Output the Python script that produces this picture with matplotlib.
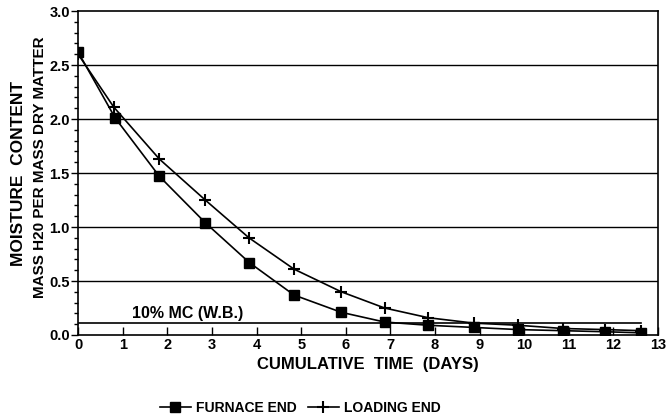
import numpy as np
import matplotlib
matplotlib.use("Agg")
import matplotlib.pyplot as plt
from matplotlib.ticker import MultipleLocator

plt.rcParams["font.family"] = ["Liberation Sans", "DejaVu Sans"]
plt.rcParams["font.weight"] = "bold"

# data
days_furnace = [0, 0.83, 1.82, 2.85, 3.84, 4.84, 5.9, 6.87, 7.85, 8.87, 9.87, 10.87, 11.82, 12.62]
mc_furnace = [2.62, 2.01, 1.47, 1.04, 0.67, 0.37, 0.21, 0.12, 0.09, 0.07, 0.05, 0.04, 0.03, 0.02]

days_loading = [0, 0.8, 1.82, 2.85, 3.83, 4.84, 5.9, 6.87, 7.85, 8.87, 9.87, 10.87, 11.82, 12.62]
mc_loading = [2.6, 2.11, 1.63, 1.25, 0.9, 0.61, 0.4, 0.25, 0.16, 0.11, 0.09, 0.06, 0.05, 0.04]

mc_limit = 0.11
limit_end = 12.62

fig = plt.figure(figsize=(6.68, 4.19), dpi=100)
ax = fig.add_axes([0.117, 0.2005, 0.868, 0.773])

# horizontal grid lines
for yv in [0.5, 1.0, 1.5, 2.0, 2.5]:
    ax.axhline(yv, color="black", lw=1.0, zorder=1)

# 10% MC line
ax.plot([0, limit_end], [mc_limit, mc_limit], color="black", lw=1.2, zorder=1)
ax.text(1.2, 0.2, "10% MC (W.B.)", fontsize=11.5, fontweight="bold", va="center")

ax.plot(days_furnace, mc_furnace, color="black", lw=1.2, marker="s",
        markersize=7, label="FURNACE END", zorder=3)
ax.plot(days_loading, mc_loading, color="black", lw=1.2, marker="+",
        markersize=8, markeredgewidth=1.5, label="LOADING END", zorder=3)

ax.set_xlim(0, 13)
ax.set_ylim(0, 3.0)
ax.xaxis.set_major_locator(MultipleLocator(1))
ax.yaxis.set_major_locator(MultipleLocator(0.5))
ax.yaxis.set_minor_locator(MultipleLocator(0.1))
ax.yaxis.set_major_formatter(plt.FuncFormatter(lambda v, p: f"{v:.1f}"))

ax.tick_params(axis="x", direction="in", length=6, width=1, labelsize=10.5, pad=2)
ax.tick_params(axis="y", which="major", direction="out", length=5, width=1, labelsize=10.5, pad=1)
ax.tick_params(axis="y", which="minor", direction="out", length=3, width=1)
for lab in ax.get_xticklabels() + ax.get_yticklabels():
    lab.set_fontweight("bold")
for sp in ax.spines.values():
    sp.set_linewidth(1.2)

ax.set_xlabel("CUMULATIVE  TIME  (DAYS)", fontsize=12, fontweight="bold", labelpad=4)
fig.text(0.027, 0.585, "MOISTURE  CONTENT", rotation=90, fontsize=12.5,
         fontweight="bold", ha="center", va="center")
fig.text(0.06, 0.6, "MASS H20 PER MASS DRY MATTER", rotation=90, fontsize=11,
         fontweight="bold", ha="center", va="center")

fig.legend(loc="center", bbox_to_anchor=(0.45, 0.026), ncol=2, frameon=False,
           fontsize=10, handlelength=2.2, columnspacing=0.8, handletextpad=0.4)

fig.savefig("out.png", dpi=100)
